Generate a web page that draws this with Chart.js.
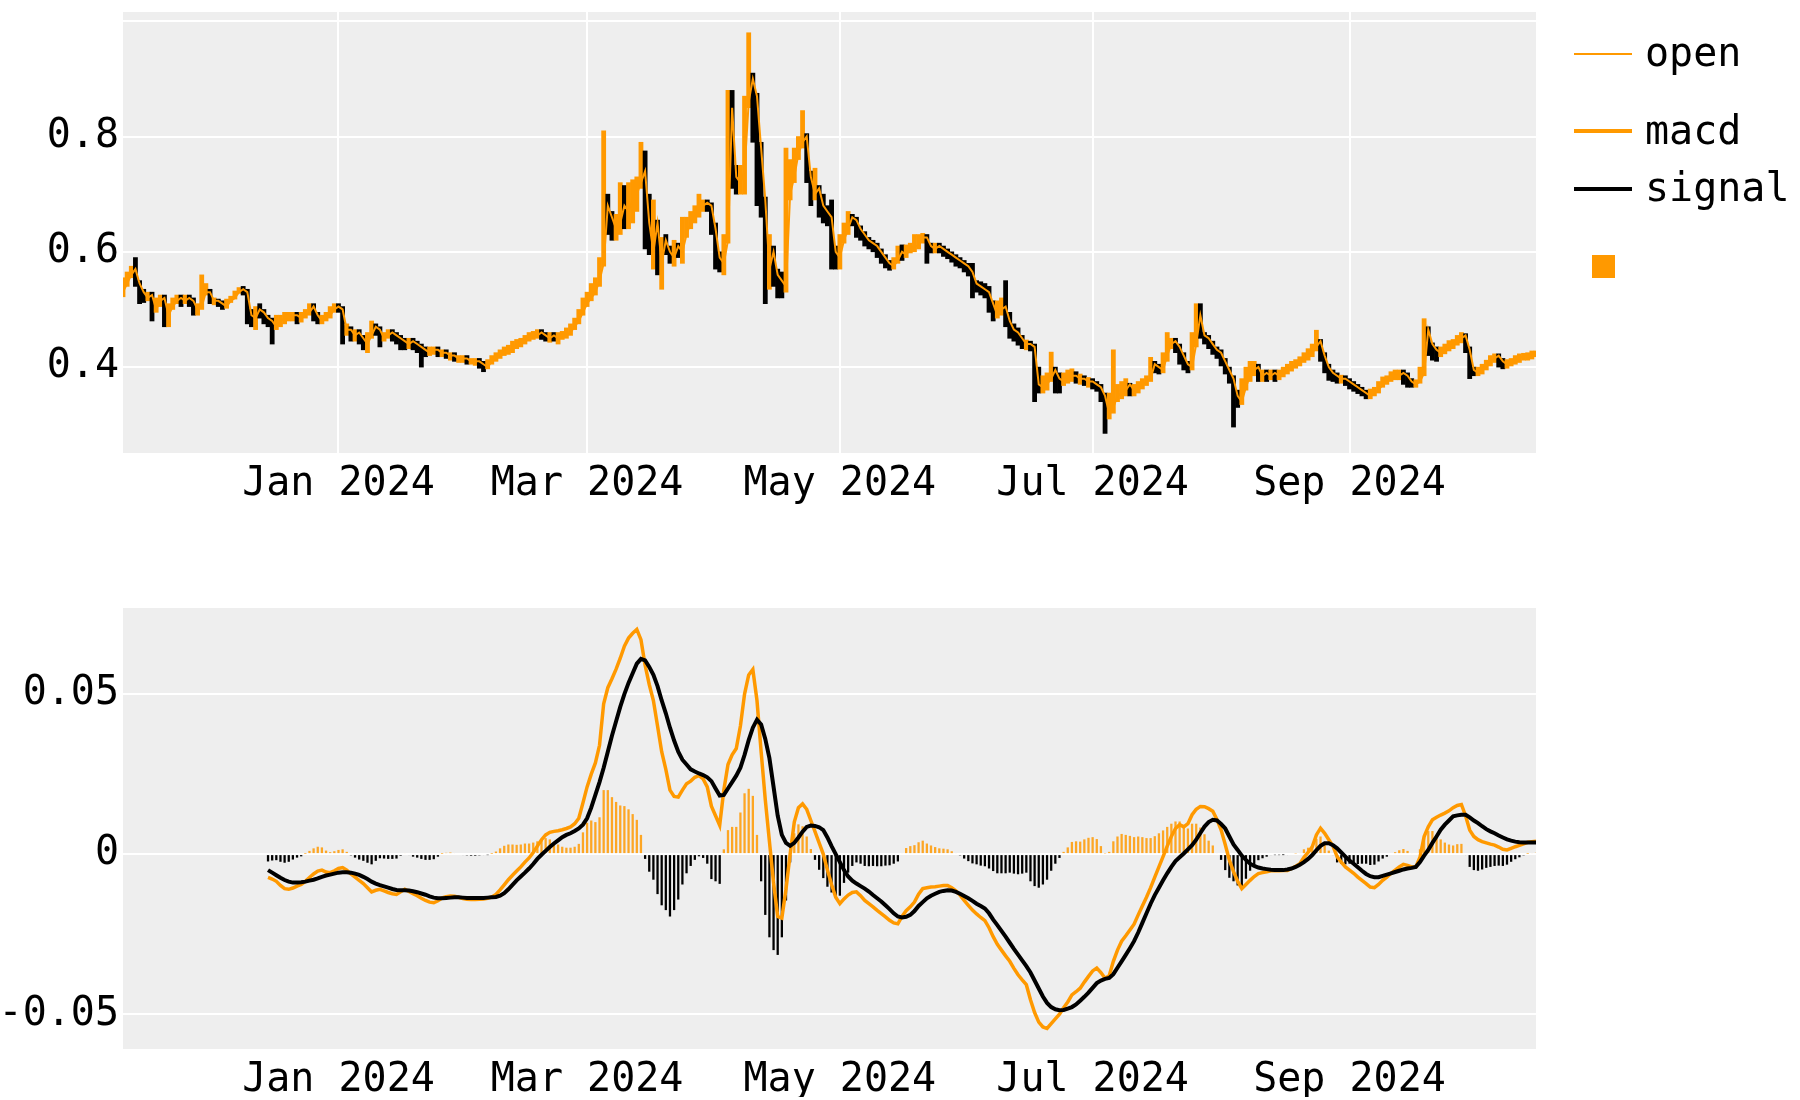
<!DOCTYPE html>
<html>
<head>
<meta charset="utf-8">
<script src="https://cdn.jsdelivr.net/npm/chart.js@4.4.0/dist/chart.umd.min.js"></script>
<style>
  html, body { margin: 0; padding: 0; background: #fff; }
  body { width: 1800px; height: 1100px; position: relative; overflow: hidden; font-family: 'DejaVu Sans Mono', monospace; }
  canvas { position: absolute; left: 0; }
  #priceChart { top: 0; }
  #macdChart { top: 537px; }
  .sw { position: absolute; left: 1574px; width: 58px; }
  .tx { position: absolute; left: 1645px; font-size: 40px; line-height: 48px; color: #000; white-space: nowrap; }
</style>
</head>
<body>
<canvas id="priceChart" width="1800" height="540"></canvas>
<canvas id="macdChart" width="1800" height="560"></canvas>

<div class="sw" style="top:53px;height:2px;background:#ff9900"></div>
<div class="tx" style="top:28px">open</div>
<div class="sw" style="top:129px;height:4px;background:#ff9900"></div>
<div class="tx" style="top:106px">macd</div>
<div class="sw" style="top:187px;height:4px;background:#000"></div>
<div class="tx" style="top:163px">signal</div>
<div style="position:absolute;left:1592px;top:255px;width:23px;height:23px;background:#ff9900"></div>

<script>
// daily prices, first day 2023-11-10
const startDate = '2023-11-10';
const open = [
  // Nov
  .530,.545,.560,.570,.545,.530,.520,.525,.500,.515,.520,.490,.505,.515,.520,.515,.520,.515,.500,.505,.530,
  // Dec
  .530,.515,.515,.510,.505,.515,.520,.530,.535,.530,.490,.485,.500,.495,.485,.480,.470,.480,.485,.490,.490,.490,.485,.490,.495,.505,.490,.480,.485,.490,.500,
  // Jan
  .505,.500,.465,.465,.455,.460,.450,.440,.455,.470,.465,.450,.455,.460,.455,.450,.445,.440,.445,.440,.435,.430,.425,.430,.430,.425,.425,.420,.420,.415,.415,
  // Feb
  .415,.410,.410,.410,.405,.400,.410,.415,.420,.425,.430,.430,.440,.440,.445,.450,.455,.455,.460,.455,.450,.455,.450,.455,.455,.460,.470,.480,.495,
  // Mar
  .510,.520,.530,.550,.580,.680,.660,.640,.650,.680,.670,.690,.700,.720,.740,.650,.600,.650,.580,.620,.600,.590,.610,.600,.630,.650,.660,.670,.680,.685,.680,
  // Apr
  .640,.590,.580,.620,.850,.730,.720,.740,.860,.900,.870,.780,.690,.570,.600,.560,.550,.540,.700,.730,.770,.790,.800,.730,.700,.710,.680,.670,.660,.600,
  // May
  .590,.620,.640,.660,.655,.640,.630,.620,.615,.610,.600,.590,.580,.575,.585,.600,.595,.605,.610,.610,.625,.625,.610,.605,.610,.605,.600,.595,.590,.585,.580,
  // Jun
  .575,.565,.545,.540,.535,.530,.510,.490,.500,.505,.480,.465,.460,.450,.440,.440,.435,.370,.365,.370,.380,.395,.380,.375,.380,.385,.385,.380,.380,.375,
  // Jul
  .375,.370,.365,.350,.320,.330,.350,.355,.360,.370,.360,.360,.370,.375,.380,.405,.400,.395,.420,.440,.445,.435,.420,.405,.400,.440,.490,.455,.450,.440,.430,
  // Aug
  .425,.410,.395,.380,.350,.340,.365,.385,.395,.400,.385,.390,.385,.390,.385,.390,.395,.400,.405,.410,.415,.420,.425,.435,.445,.420,.400,.390,.385,.380,.380,
  // Sep
  .375,.370,.365,.360,.355,.350,.355,.360,.370,.375,.380,.385,.385,.390,.385,.375,.370,.375,.390,.465,.440,.430,.425,.430,.435,.440,.445,.450,.455,.430,
  // Oct
  .395,.390,.395,.400,.410,.415,.420,.410,.405,.410,.410,.415,.420,.420,.420,.425
];
const high = [
  .555,.565,.575,.590,.550,.535,.530,.530,.520,.525,.525,.510,.520,.525,.525,.525,.525,.520,.510,.560,.545,
  .535,.520,.518,.515,.518,.523,.532,.538,.540,.535,.500,.505,.510,.500,.490,.485,.490,.490,.495,.495,.495,.495,.495,.500,.510,.510,.495,.490,.495,.505,.510,
  .510,.505,.475,.470,.465,.465,.455,.460,.480,.475,.470,.460,.465,.465,.460,.455,.450,.450,.450,.445,.440,.435,.435,.435,.435,.430,.430,.425,.425,.420,.420,
  .420,.415,.415,.415,.410,.413,.420,.425,.430,.435,.438,.445,.448,.450,.455,.460,.462,.465,.465,.460,.460,.460,.460,.462,.468,.475,.485,.500,.520,
  .530,.545,.555,.590,.810,.700,.670,.665,.720,.715,.720,.725,.730,.790,.775,.700,.690,.655,.625,.630,.610,.620,.615,.660,.660,.670,.680,.700,.690,.690,.685,
  .650,.600,.630,.880,.880,.750,.750,.870,.980,.910,.875,.790,.695,.630,.610,.570,.565,.780,.760,.780,.800,.845,.805,.740,.745,.715,.700,.680,.690,.610,
  .630,.650,.670,.665,.660,.645,.635,.625,.620,.615,.605,.595,.585,.590,.610,.612,.612,.615,.630,.630,.632,.630,.615,.615,.615,.610,.605,.600,.595,.590,.585,
  .580,.580,.550,.548,.545,.540,.515,.515,.520,.550,.495,.475,.468,.455,.447,.445,.440,.400,.385,.390,.426,.400,.390,.390,.395,.397,.392,.388,.385,.382,
  .380,.375,.370,.355,.355,.430,.370,.375,.380,.372,.370,.375,.380,.385,.417,.410,.405,.425,.460,.450,.450,.440,.425,.410,.460,.510,.510,.460,.455,.445,.435,
  .430,.415,.400,.385,.360,.380,.400,.410,.410,.405,.395,.395,.395,.395,.395,.400,.405,.410,.413,.418,.425,.432,.440,.464,.448,.425,.405,.395,.390,.386,.385,
  .380,.375,.370,.365,.360,.362,.365,.375,.383,.385,.392,.395,.395,.395,.390,.380,.378,.400,.484,.470,.442,.435,.435,.440,.446,.448,.455,.460,.458,.435,
  .400,.400,.405,.412,.420,.423,.423,.415,.413,.415,.420,.423,.424,.425,.428,.428
];
const low = [
  .522,.540,.555,.540,.510,.512,.515,.480,.495,.505,.470,.470,.500,.510,.505,.510,.505,.490,.490,.500,.525,
  .510,.508,.505,.500,.502,.512,.518,.528,.525,.475,.470,.465,.485,.475,.470,.440,.465,.470,.475,.480,.480,.475,.478,.485,.490,.480,.475,.475,.480,.485,.495,
  .495,.440,.455,.445,.445,.440,.430,.425,.450,.455,.435,.445,.450,.445,.440,.430,.430,.432,.430,.425,.400,.418,.420,.422,.418,.418,.415,.412,.410,.408,.408,
  .405,.405,.403,.398,.392,.397,.405,.410,.415,.420,.422,.425,.432,.435,.440,.445,.448,.450,.448,.445,.443,.445,.440,.448,.450,.455,.465,.475,.490,
  .505,.515,.525,.540,.575,.630,.620,.620,.630,.640,.640,.650,.670,.710,.605,.595,.570,.560,.535,.595,.580,.575,.590,.580,.625,.640,.650,.660,.670,.670,.630,
  .570,.565,.560,.615,.710,.700,.700,.700,.850,.790,.680,.660,.510,.535,.540,.520,.520,.530,.690,.720,.760,.780,.720,.680,.690,.660,.650,.645,.570,.570,
  .570,.615,.630,.645,.625,.620,.610,.605,.600,.590,.580,.572,.568,.570,.580,.585,.590,.598,.600,.605,.615,.580,.598,.598,.598,.592,.588,.582,.575,.572,.565,
  .558,.520,.530,.525,.520,.495,.480,.485,.490,.470,.450,.445,.438,.432,.430,.428,.340,.355,.355,.360,.375,.355,.355,.368,.372,.375,.372,.370,.368,.365,
  .362,.358,.340,.285,.310,.320,.340,.345,.350,.350,.350,.355,.362,.368,.375,.390,.388,.390,.410,.432,.425,.405,.395,.390,.395,.435,.450,.440,.432,.422,.415,
  .402,.388,.372,.296,.330,.335,.360,.375,.385,.375,.375,.375,.378,.375,.378,.383,.388,.393,.398,.402,.408,.412,.418,.428,.410,.390,.377,.375,.372,.372,.368,
  .362,.358,.354,.350,.345,.345,.350,.355,.365,.370,.375,.378,.378,.370,.365,.365,.365,.372,.385,.420,.412,.410,.418,.423,.428,.432,.438,.442,.425,.380,
  .385,.385,.388,.395,.402,.408,.400,.397,.398,.402,.405,.408,.412,.412,.414,.418
];

// daily macd / signal, first day 2023-12-15
const macdStartDate = '2023-12-15';
const macd = [
  // Dec
  -.0073,-.0078,-.0085,-.0098,-.0108,-.0110,-.0106,-.0100,-.0095,-.0085,-.0073,-.0062,-.0053,-.0050,-.0056,-.0058,-.0052,
  // Jan
  -.0045,-.0042,-.0050,-.0062,-.0072,-.0082,-.0092,-.0105,-.0118,-.0113,-.0110,-.0115,-.0120,-.0124,-.0126,-.0118,-.0110,-.0117,-.0124,-.0130,-.0138,-.0145,-.0150,-.0152,-.0146,-.0137,-.0133,-.0131,-.0132,-.0135,-.0139,
  // Feb
  -.0141,-.0142,-.0142,-.0141,-.0140,-.0138,-.0134,-.0126,-.0112,-.0096,-.0080,-.0066,-.0053,-.0040,-.0025,-.0012,.0005,.0025,.0045,.0060,.0068,.0071,.0073,.0076,.0080,.0085,.0095,.0112,.0160,
  // Mar
  .0210,.0250,.0285,.0340,.0470,.0520,.0548,.0578,.0612,.0650,.0675,.0690,.0702,.0670,.0590,.0530,.0480,.0400,.0320,.0265,.0200,.0180,.0178,.0200,.0220,.0228,.0240,.0245,.0235,.0210,.0150,
  // Apr
  .0120,.0090,.0200,.0280,.0310,.0330,.0400,.0500,.0560,.0577,.0480,.0320,.0170,.0040,-.0090,-.0195,-.0200,-.0110,.0000,.0100,.0145,.0157,.0140,.0105,.0070,.0035,.0000,-.0050,-.0095,-.0135,
  // May
  -.0155,-.0140,-.0128,-.0120,-.0118,-.0130,-.0145,-.0155,-.0165,-.0176,-.0186,-.0196,-.0207,-.0215,-.0218,-.0195,-.0177,-.0165,-.0150,-.0125,-.0108,-.0105,-.0103,-.0102,-.0100,-.0098,-.0098,-.0105,-.0115,-.0128,-.0145,
  // Jun
  -.0160,-.0175,-.0187,-.0198,-.0208,-.0230,-.0258,-.0282,-.0300,-.0318,-.0335,-.0357,-.0377,-.0393,-.0408,-.0455,-.0495,-.0525,-.0540,-.0545,-.0530,-.0515,-.0500,-.0480,-.0462,-.0440,-.0430,-.0419,-.0400,-.0382,
  // Jul
  -.0365,-.0356,-.0370,-.0388,-.0380,-.0335,-.0300,-.0272,-.0255,-.0237,-.0219,-.0190,-.0162,-.0135,-.0105,-.0072,-.0040,-.0008,.0025,.0055,.0080,.0092,.0085,.0095,.0123,.0140,.0149,.0148,.0142,.0134,.0108,
  // Aug
  .0076,.0030,-.0019,-.0055,-.0085,-.0108,-.0095,-.0082,-.0070,-.0061,-.0058,-.0055,-.0052,-.0052,-.0052,-.0051,-.0051,-.0045,-.0038,-.0030,-.0010,.0005,.0023,.0060,.0081,.0065,.0045,.0025,-.0008,-.0025,-.0040,
  // Sep
  -.0050,-.0060,-.0072,-.0082,-.0092,-.0103,-.0105,-.0095,-.0082,-.0072,-.0060,-.0050,-.0040,-.0032,-.0035,-.0040,-.0040,-.0010,.0055,.0085,.0107,.0115,.0122,.0128,.0135,.0145,.0152,.0155,.0120,.0075,
  // Oct
  .0055,.0045,.0039,.0035,.0031,.0028,.0022,.0015,.0013,.0018,.0023,.0027,.0032,.0037,.0039,.0040
];
const signal = [
  -.0050,-.0058,-.0066,-.0074,-.0081,-.0086,-.0089,-.0089,-.0088,-.0086,-.0083,-.0080,-.0076,-.0071,-.0067,-.0064,-.0061,
  -.0058,-.0057,-.0057,-.0058,-.0061,-.0065,-.0071,-.0078,-.0086,-.0092,-.0097,-.0101,-.0105,-.0109,-.0112,-.0113,-.0113,-.0114,-.0116,-.0119,-.0123,-.0127,-.0132,-.0136,-.0138,-.0138,-.0137,-.0136,-.0135,-.0135,-.0136,
  -.0137,-.0137,-.0137,-.0137,-.0137,-.0136,-.0135,-.0134,-.0130,-.0122,-.0110,-.0096,-.0082,-.0070,-.0058,-.0045,-.0031,-.0015,-.0002,.0010,.0022,.0033,.0043,.0053,.0060,.0065,.0072,.0080,.0092,
  .0112,.0145,.0185,.0225,.0270,.0320,.0370,.0415,.0460,.0500,.0535,.0565,.0595,.0610,.0605,.0585,.0560,.0525,.0480,.0440,.0395,.0355,.0320,.0295,.0280,.0265,.0258,.0252,.0247,.0240,.0228,
  .0205,.0183,.0185,.0205,.0225,.0245,.0270,.0310,.0356,.0395,.0420,.0405,.0360,.0300,.0210,.0120,.0060,.0035,.0026,.0035,.0052,.0070,.0085,.0089,.0088,.0084,.0075,.0052,.0025,.0000,
  -.0025,-.0050,-.0070,-.0083,-.0092,-.0100,-.0108,-.0117,-.0128,-.0138,-.0148,-.0160,-.0172,-.0185,-.0195,-.0198,-.0196,-.0190,-.0178,-.0162,-.0150,-.0138,-.0130,-.0124,-.0118,-.0115,-.0113,-.0114,-.0118,-.0124,-.0131,
  -.0138,-.0146,-.0155,-.0162,-.0170,-.0185,-.0205,-.0222,-.0240,-.0258,-.0277,-.0296,-.0314,-.0332,-.0350,-.0370,-.0395,-.0420,-.0445,-.0465,-.0478,-.0485,-.0488,-.0487,-.0483,-.0478,-.0470,-.0458,-.0446,-.0433,
  -.0418,-.0403,-.0395,-.0390,-.0387,-.0375,-.0355,-.0335,-.0315,-.0294,-.0272,-.0245,-.0215,-.0185,-.0155,-.0128,-.0105,-.0082,-.0060,-.0040,-.0022,-.0010,.0002,.0015,.0028,.0045,.0066,.0086,.0100,.0107,.0105,
  .0094,.0080,.0055,.0030,.0013,-.0005,-.0018,-.0030,-.0037,-.0042,-.0045,-.0047,-.0049,-.0050,-.0050,-.0050,-.0048,-.0045,-.0040,-.0033,-.0025,-.0015,-.0003,.0012,.0026,.0034,.0034,.0028,.0018,.0005,-.0008,
  -.0020,-.0030,-.0041,-.0052,-.0062,-.0069,-.0072,-.0072,-.0068,-.0064,-.0060,-.0056,-.0052,-.0048,-.0045,-.0043,-.0040,-.0025,-.0005,.0013,.0035,.0055,.0076,.0092,.0105,.0118,.0121,.0123,.0123,.0115,
  .0105,.0097,.0087,.0078,.0071,.0065,.0058,.0052,.0046,.0042,.0039,.0037,.0036,.0036,.0036,.0036
];

const monthTickDates = ['2024-01-01', '2024-03-01', '2024-05-01', '2024-07-01', '2024-09-01'];
const monthTickLabels = ['Jan 2024', 'Mar 2024', 'May 2024', 'Jul 2024', 'Sep 2024'];
const priceTicks = [0.4, 0.6, 0.8, 1.0];
const macdTicks = [-0.05, 0, 0.05];

const ORANGE = '#ff9900';
const HIST_ORANGE = 'rgba(255,153,0,0.85)';
const BLACK = '#000000';

const dayIndex = d => Math.round((Date.parse(d) - Date.parse(startDate)) / 86400000);
const lastDay = open.length - 1;

// candle bars: low..high, orange when the next open is higher
const candleData = open.map((o, i) => ({ x: i, y: [low[i], high[i]] }));
const candleColors = open.map((o, i) => {
  const c = i < lastDay ? open[i + 1] : o;
  return c >= o ? ORANGE : BLACK;
});
const openData = open.map((o, i) => ({ x: i, y: o }));

const off = dayIndex(macdStartDate);
const macdData = macd.map((v, k) => ({ x: off + k, y: v }));
const signalData = signal.map((v, k) => ({ x: off + k, y: v }));
const histData = macd.map((v, k) => ({ x: off + k, y: v - signal[k] }));
const histColors = histData.map(p => p.y >= 0 ? HIST_ORANGE : BLACK);

Chart.defaults.font.family = "'DejaVu Sans Mono'";
Chart.defaults.font.size = 40;
Chart.defaults.color = '#000';

const plotBg = {
  id: 'plotBg',
  beforeDraw(chart) {
    const { ctx, chartArea: a } = chart;
    ctx.save();
    ctx.fillStyle = '#eeeeee';
    ctx.fillRect(a.left, a.top, a.right - a.left, a.bottom - a.top);
    ctx.restore();
  }
};

function xAxis(showGrid, h) {
  return {
    type: 'linear', min: 0, max: lastDay, offset: false,
    afterBuildTicks: s => { s.ticks = monthTickDates.map(d => ({ value: dayIndex(d) })); },
    ticks: { padding: 8, autoSkip: false, maxRotation: 0, callback: (v, i) => monthTickLabels[i] },
    grid: { display: showGrid, offset: false, color: '#ffffff', lineWidth: 2, drawTicks: false },
    border: { display: false },
    afterFit: s => { s.height = h; s.paddingLeft = 0; s.paddingRight = 0; }
  };
}

function yAxis(min, max, ticks, fmt) {
  return {
    type: 'linear', min: min, max: max,
    afterBuildTicks: s => { s.ticks = ticks.map(v => ({ value: v })); },
    ticks: { padding: 4, callback: fmt },
    grid: { color: '#ffffff', lineWidth: 2, drawTicks: false },
    border: { display: false },
    afterFit: s => { s.width = 123; s.paddingTop = 0; s.paddingBottom = 0; }
  };
}

const common = {
  responsive: false,
  animation: false,
  plugins: { legend: { display: false }, tooltip: { enabled: false } }
};

new Chart(document.getElementById('priceChart'), {
  type: 'bar',
  data: {
    datasets: [
      { type: 'line', label: 'open', data: openData, borderColor: ORANGE, borderWidth: 2, pointRadius: 0, tension: 0, order: 0 },
      { label: 'candles', data: candleData, backgroundColor: candleColors, barPercentage: 1, categoryPercentage: 1, order: 1 }
    ]
  },
  options: {
    ...common,
    layout: { padding: { left: 0, right: 264, top: 12, bottom: 0 } },
    scales: {
      x: xAxis(true, 87),
      y: yAxis(0.251, 1.016, priceTicks, v => v >= 1 ? '' : v.toFixed(1))
    }
  },
  plugins: [plotBg]
});

new Chart(document.getElementById('macdChart'), {
  type: 'bar',
  data: {
    datasets: [
      { type: 'line', label: 'signal', data: signalData, borderColor: BLACK, borderWidth: 4, pointRadius: 0, tension: 0, order: 0 },
      { type: 'line', label: 'macd', data: macdData, borderColor: ORANGE, borderWidth: 3.5, pointRadius: 0, tension: 0, order: 1 },
      { label: 'hist', data: histData, backgroundColor: histColors, barPercentage: 0.55, categoryPercentage: 1, order: 2 }
    ]
  },
  options: {
    ...common,
    layout: { padding: { left: 0, right: 264, top: 71, bottom: 0 } },
    scales: {
      x: xAxis(false, 48),
      y: yAxis(-0.0609, 0.0769, macdTicks, v => v === 0 ? '0' : v.toFixed(2))
    }
  },
  plugins: [plotBg]
});
</script>
</body>
</html>
